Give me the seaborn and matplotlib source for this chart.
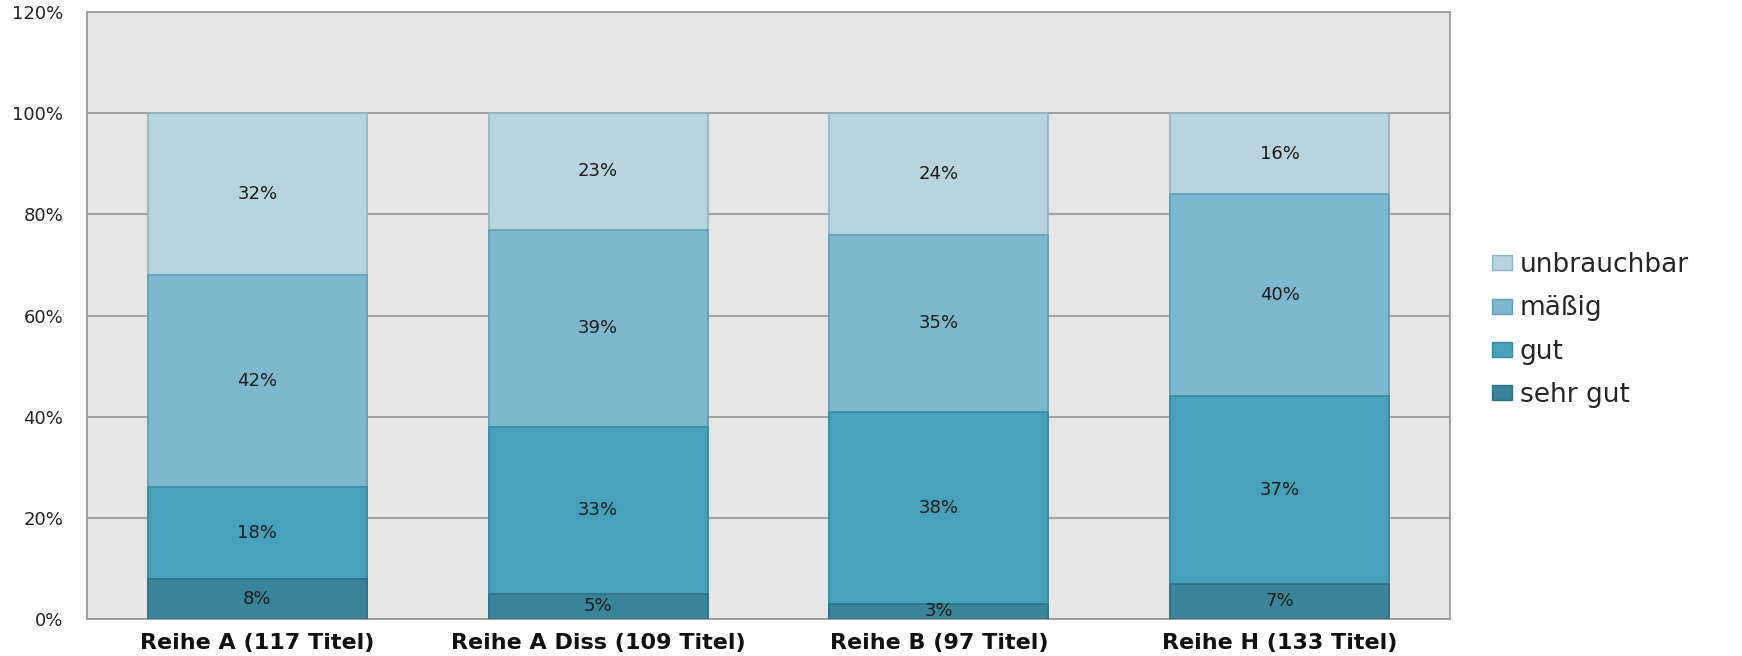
import seaborn as sns
import matplotlib.pyplot as plt
from matplotlib.patches import Patch
import pandas as pd
import numpy as np

# data (percent per rating)
reihen = ['Reihe A (117 Titel)', 'Reihe A Diss (109 Titel)',
          'Reihe B (97 Titel)', 'Reihe H (133 Titel)']
stufen = ['sehr gut', 'gut', 'mäßig', 'unbrauchbar']
sehr_gut = [8, 5, 3, 7]
gut = [18, 33, 38, 37]
maessig = [42, 39, 35, 40]
unbrauchbar = [32, 23, 24, 16]

farben = {'sehr gut': '#3A8599', 'gut': '#47A1BA',
          'mäßig': '#7DB8CF', 'unbrauchbar': '#B7D4DF'}
kanten = {'sehr gut': '#2E7083', 'gut': '#3A889E',
          'mäßig': '#5F9DB3', 'unbrauchbar': '#8EB3C0'}

data = pd.DataFrame({'reihe': reihen, 'sehr gut': sehr_gut, 'gut': gut,
                     'mäßig': maessig, 'unbrauchbar': unbrauchbar})

sns.set_style('white')
plt.rcParams['font.family'] = ['DejaVu Sans']

fig = plt.figure(figsize=(17.42, 6.56), dpi=100)
ax = fig.add_axes([0.0499, 0.0564, 0.7825, 0.9253])
ax.set_facecolor('#E6E6E6')

# cumulative sums, draw tallest layer first so lower segments sit on top
cum = data[stufen].cumsum(axis=1)
for stufe in reversed(stufen):
    sns.barplot(x=data['reihe'], y=cum[stufe], color=farben[stufe],
                edgecolor=kanten[stufe], linewidth=1.2, width=0.643,
                saturation=1, ax=ax, zorder=3)

# segment labels
for i in range(len(reihen)):
    unten = 0
    for stufe in stufen:
        wert = data[stufe][i]
        ax.text(i, unten + wert / 2, f'{wert}%', ha='center', va='center',
                fontsize=13, color='#1a1a1a', zorder=5)
        unten += wert

ax.set_ylim(0, 120)
ax.set_yticks(np.arange(0, 121, 20))
ax.set_yticklabels([f'{v}%' for v in range(0, 121, 20)], fontsize=13,
                   color='#222222')
ax.yaxis.grid(True, color='#9a9a9a', linewidth=1.3, zorder=0)
ax.set_axisbelow(True)
ax.tick_params(axis='y', length=0, pad=17)
ax.tick_params(axis='x', length=0, pad=10)
for lab in ax.get_xticklabels():
    lab.set_fontsize(16)
    lab.set_fontweight('bold')
    lab.set_color('#111111')
ax.set_xlabel('')
ax.set_ylabel('')
for s in ax.spines.values():
    s.set_color('#9a9a9a')
    s.set_linewidth(1.3)

handles = [Patch(facecolor=farben[s], edgecolor=kanten[s], label=s)
           for s in reversed(stufen)]
fig.legend(handles=handles, loc='center left',
           bbox_to_anchor=(1479 / 1742, 1 - 330 / 656), frameon=False,
           fontsize=19, handlelength=0.75, handleheight=0.5,
           handletextpad=0.3, labelspacing=0.65, borderpad=0)

fig.savefig('out.png', dpi=100)
